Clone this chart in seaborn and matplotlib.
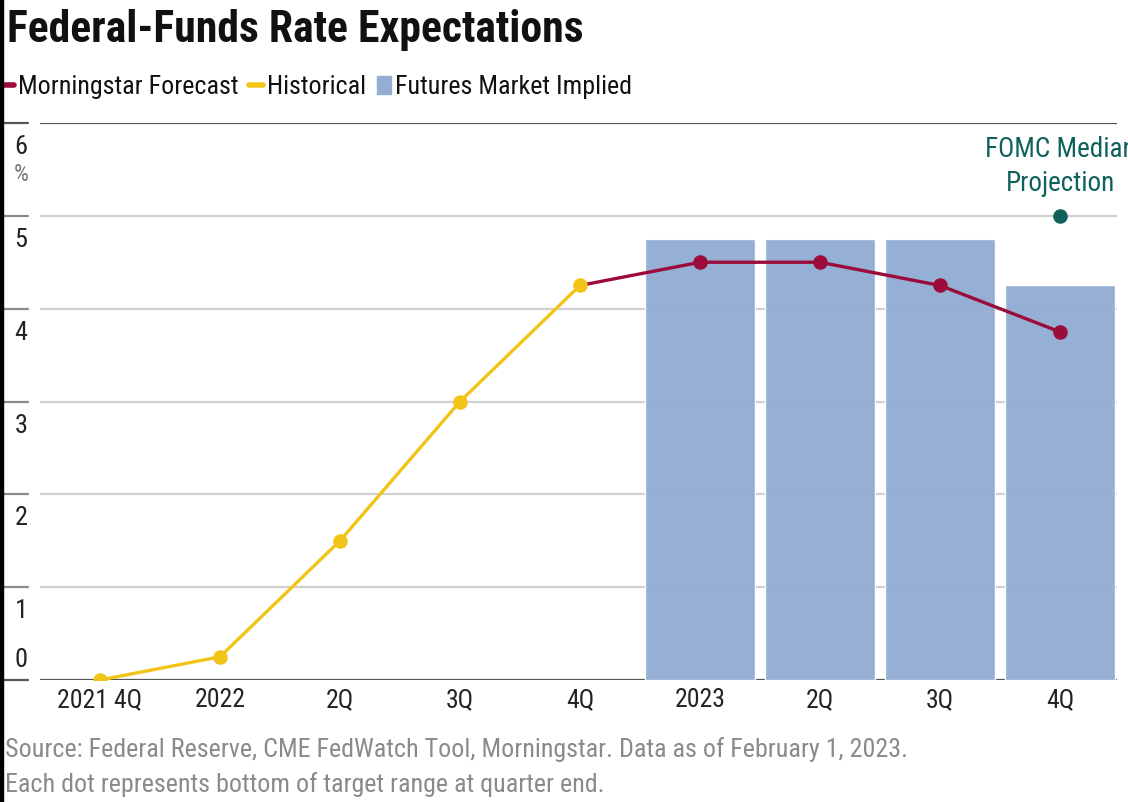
import numpy as np
import pandas as pd
import seaborn as sns
import matplotlib.pyplot as plt
import matplotlib.transforms as mtransforms
from matplotlib import font_manager
from matplotlib.lines import Line2D
from matplotlib.patches import Patch, Rectangle

# data
quarters = ['2021 4Q', '2022', '2Q', '3Q', '4Q', '2023', '2Q', '3Q', '4Q']
historical = [0.0, 0.25, 1.5, 3.0, 4.25]
forecast = [4.25, 4.5, 4.5, 4.25, 3.75]
futures = [4.75, 4.75, 4.75, 4.25]
fomc_median = [5.0]
y_ticks = [0, 1, 2, 3, 4, 5, 6]

RED = '#9c0c3b'
YELLOW = '#f2c418'
BLUE = '#93add3'
TEAL = '#0f615c'
DARK = '#555555'
LIGHT = '#d0d0d0'

sns.set_theme(style='white')
avail = {f.name for f in font_manager.fontManager.ttflist}
narrow = next((f for f in ['Liberation Sans Narrow', 'Roboto Condensed', 'DejaVu Sans'] if f in avail), 'DejaVu Sans')
plt.rcParams['font.family'] = [narrow, 'DejaVu Sans']

pos = np.arange(len(quarters))
hist_df = pd.DataFrame({'x': pos[:5], 'rate': historical})
fc_df = pd.DataFrame({'x': pos[4:], 'rate': forecast})
fut_df = pd.DataFrame({'x': pos[5:], 'rate': futures})
fomc_df = pd.DataFrame({'x': pos[-1:], 'rate': fomc_median})

W, H = 1128, 802
fig = plt.figure(figsize=(W / 100, H / 100), dpi=100)
ax = fig.add_axes([40 / W, 122 / H, 1077 / W, 557 / H])

for v in y_ticks:
    ax.axhline(v, color=DARK if v in (0, 6) else LIGHT, lw=1.6, zorder=0.5)

sns.barplot(data=fut_df, x='x', y='rate', native_scale=True, width=0.92,
            color=BLUE, saturation=1, alpha=0.97, ax=ax, zorder=1)

sns.lineplot(data=fc_df, x='x', y='rate', color=RED, lw=2.4, ax=ax, zorder=2)
sns.scatterplot(data=fc_df.iloc[1:], x='x', y='rate', color=RED, s=110,
                linewidth=0, ax=ax, zorder=3)
sns.lineplot(data=hist_df, x='x', y='rate', color=YELLOW, lw=2.4, ax=ax, zorder=3)
sns.scatterplot(data=hist_df, x='x', y='rate', color=YELLOW, s=110,
                linewidth=0, ax=ax, zorder=4)
sns.scatterplot(data=fomc_df, x='x', y='rate', color=TEAL, s=110,
                linewidth=0, ax=ax, zorder=4)
ax.text(pos[-1], 5.53, 'FOMC Median\nProjection', ha='center', va='center',
        color=TEAL, fontsize=19.5, linespacing=1.3, clip_on=False)

ax.set_xlim(-0.5, 8.475)
ax.set_ylim(0, 6)
ax.set_xticks(pos, quarters)
ax.set_yticks([])
ax.tick_params(axis='x', length=0, pad=6, labelsize=18.5, labelcolor='#222222')
ax.set_xlabel('')
ax.set_ylabel('')
for s in ax.spines.values():
    s.set_visible(False)

# y labels sit under their gridlines, at the far left
trans = mtransforms.blended_transform_factory(fig.transFigure, ax.transData)
for v in y_ticks:
    off = 0.22 if v == 0 else -0.26
    fig.text(21 / W, v + off, str(v), transform=trans, ha='center', va='center',
             fontsize=19, color='#222222')
    fig.add_artist(Line2D([3 / W, 28 / W], [v, v], transform=trans,
                          color=DARK if v in (0, 6) else '#8a8a8a', lw=1.6))
fig.text(21 / W, 5.45, '%', transform=trans, ha='center', va='center',
         fontsize=17, color='#777777')

fig.add_artist(Rectangle((0, 0), 3 / W, 1, transform=fig.transFigure,
                         color='black', zorder=10))

fig.text(7 / W, 1 - 30 / H, 'Federal-Funds Rate Expectations', ha='left',
         va='center', fontsize=31.5, fontweight='bold', color='#111111')

handles = [Line2D([], [], color=RED, lw=4), Line2D([], [], color=YELLOW, lw=4),
           Patch(color=BLUE)]
fig.legend(handles, ['Morningstar Forecast', 'Historical', 'Futures Market Implied'],
           loc='center left', bbox_to_anchor=(0, 1 - 87 / H), ncol=3, frameon=False,
           fontsize=18.7, handlelength=0.55, handletextpad=0.15, columnspacing=0.4,
           borderaxespad=0, borderpad=0, labelcolor='#111111')

fig.text(5 / W, 1 - 750 / H,
         'Source: Federal Reserve, CME FedWatch Tool, Morningstar. Data as of February 1, 2023.',
         ha='left', va='center', fontsize=18.7, color='#8a8a8a')
fig.text(5 / W, 1 - 785 / H, 'Each dot represents bottom of target range at quarter end.',
         ha='left', va='center', fontsize=18.7, color='#8a8a8a')

fig.savefig('out.png', dpi=100)
